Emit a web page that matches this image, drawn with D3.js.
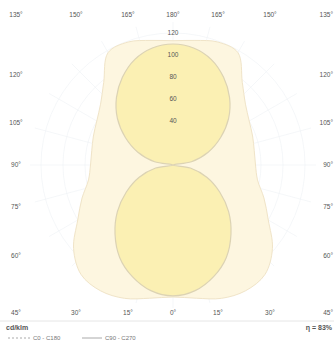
<!DOCTYPE html>
<html>

<head>
  <meta charset=utf-8>
  <title>Polar light distribution</title>
</head>

<script src="https://d3js.org/d3.v7.min.js"></script>

<style>
  body { margin: 0; background: #fff; }
  #chart { width: 334px; height: 343px; }
  text { font-family: "Liberation Sans", Arial, sans-serif; }
</style>

<body>
  <div id='chart'></div>
</body>

<script>

// gamma angles, 0 = straight down, 180 = straight up
var gammas = [0, 10, 20, 30, 40, 50, 60, 70, 80, 90, 100, 110, 120, 130, 140, 150, 160, 170, 180];

// cd/klm
var c0c180 = [120, 123, 129, 132, 130, 118, 100, 88, 78, 75, 75, 77, 80, 86, 98, 118, 119, 115, 113];
var c90c270 = [119, 116, 108, 97, 82, 66, 49, 33, 16, 0, 17, 34, 50, 66, 80, 92, 102, 108, 110];

var ringValues = [20, 40, 60, 80, 100, 120];
var ringLabels = [40, 60, 80, 100, 120];
var angleTicks = [0, 15, 30, 45, 60, 75, 90, 105, 120, 135, 150, 165, 180];

var unitLabel = 'cd/klm';
var effLabel = 'η = 83%';
var legendNames = ['C0 - C180', 'C90 - C270'];

var width = 334, height = 343;
var cx = 173, cy = 165;

var svg = d3.select('#chart').append('svg')
  .attr('width', width)
  .attr('height', height);

var r = d3.scaleLinear().domain([0, 120]).range([0, 132]);

// screen point for gamma (deg) and value, side = 1 right, -1 left
function pt(g, v, side) {
  var a = g * Math.PI / 180;
  return [cx + side * r(v) * Math.sin(a), cy + r(v) * Math.cos(a)];
}

// closed outline: right half going down->up, then left half back
function outline(vals) {
  var pts = [];
  gammas.forEach(function (g, i) { pts.push(pt(g, vals[i], 1)); });
  for (var i = gammas.length - 2; i > 0; i--) pts.push(pt(gammas[i], vals[i], -1));
  return pts;
}

var line = d3.line().curve(d3.curveCatmullRomClosed.alpha(0.5));

// grid (very faint in the original)
var grid = svg.append('g').attr('stroke', '#eef1f5').attr('stroke-width', 0.6).attr('fill', 'none');
grid.selectAll('circle')
  .data(ringValues)
  .enter().append('circle')
    .attr('cx', cx).attr('cy', cy)
    .attr('r', function (d) { return r(d); });

var spokes = d3.range(0, 360, 15);
grid.selectAll('line')
  .data(spokes)
  .enter().append('line')
    .attr('x1', cx).attr('y1', cy)
    .attr('x2', function (d) { return cx + r(130) * Math.sin(d * Math.PI / 180); })
    .attr('y2', function (d) { return cy + r(130) * Math.cos(d * Math.PI / 180); });

// curves
svg.append('path')
  .attr('d', line(outline(c0c180)))
  .attr('fill', '#fdf6e0')
  .attr('stroke', '#f0e4c8')
  .attr('stroke-width', 1);

svg.append('path')
  .attr('d', line(outline(c90c270)))
  .attr('fill', '#fbf0b3')
  .attr('stroke', '#dcd3b4')
  .attr('stroke-width', 1.2);

// radial value labels
svg.append('g')
  .selectAll('text')
  .data(ringLabels)
  .enter().append('text')
    .attr('x', cx)
    .attr('y', function (d) { return cy - r(d); })
    .attr('dy', '0.35em')
    .attr('text-anchor', 'middle')
    .attr('font-size', 6.5)
    .attr('fill', '#555')
    .text(function (d) { return d; });

// angle labels around the frame
function labelPos(g, side) {
  var a = g * Math.PI / 180;
  var dx = side * Math.sin(a), dy = Math.cos(a);
  var t = Math.min(Math.abs(dx) > 1e-6 ? 157 / Math.abs(dx) : 1e9, Math.abs(dy) > 1e-6 ? 168 / Math.abs(dy) : 1e9);
  var x = cx + dx * t, y = cy + dy * t;
  y = Math.max(15, Math.min(313, y));
  return [x, y];
}

var angleData = [];
angleTicks.forEach(function (g) {
  angleData.push({g: g, p: labelPos(g, 1)});
  if (g > 0 && g < 180) angleData.push({g: g, p: labelPos(g, -1)});
});

svg.append('g')
  .selectAll('text')
  .data(angleData)
  .enter().append('text')
    .attr('x', function (d) { return d.p[0] > 320 ? 333 : d.p[0]; })
    .attr('y', function (d) { return d.p[1]; })
    .attr('dy', '0.35em')
    .attr('text-anchor', function (d) { return d.p[0] > 320 ? 'end' : 'middle'; })
    .attr('font-size', 6.5)
    .attr('fill', '#555')
    .text(function (d) { return d.g + '°'; });

// footer
svg.append('line')
  .attr('x1', 0).attr('x2', width)
  .attr('y1', 321).attr('y2', 321)
  .attr('stroke', '#e6e6e6');

svg.append('text')
  .attr('x', 6).attr('y', 330)
  .attr('font-size', 7).attr('font-weight', 'bold').attr('fill', '#555')
  .text(unitLabel);

svg.append('text')
  .attr('x', 332).attr('y', 330)
  .attr('text-anchor', 'end')
  .attr('font-size', 7).attr('font-weight', 'bold').attr('fill', '#555')
  .text(effLabel);

var legend = svg.append('g').attr('transform', 'translate(8,338)');
legend.append('line')
  .attr('x1', 0).attr('x2', 22).attr('y1', 0).attr('y2', 0)
  .attr('stroke', '#aaa').attr('stroke-dasharray', '2,2');
legend.append('text')
  .attr('x', 25).attr('y', 0).attr('dy', '0.35em')
  .attr('font-size', 6).attr('fill', '#777')
  .text(legendNames[0]);
legend.append('line')
  .attr('x1', 74).attr('x2', 94).attr('y1', 0).attr('y2', 0)
  .attr('stroke', '#aaa');
legend.append('text')
  .attr('x', 97).attr('y', 0).attr('dy', '0.35em')
  .attr('font-size', 6).attr('fill', '#777')
  .text(legendNames[1]);

</script>

</html>
